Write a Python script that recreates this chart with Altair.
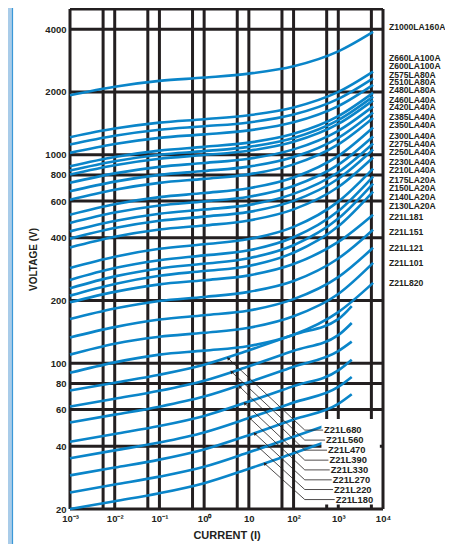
import altair as alt
import pandas as pd

# ---------------- data ----------------
I_LONG = [0.001, 0.01, 0.1, 1, 10, 100, 1000, 6000]
I_SHORT = [0.001, 0.01, 0.1, 1, 10, 100, 1000, 2000]

names = [
    "Z1000LA160A", "Z660LA100A", "Z600LA100A", "Z575LA80A", "Z510LA80A", "Z480LA80A",
    "Z460LA40A", "Z420LA40A", "Z385LA40A", "Z350LA40A", "Z300LA40A", "Z275LA40A",
    "Z250LA40A", "Z230LA40A", "Z210LA40A", "Z175LA20A", "Z150LA20A", "Z140LA20A",
    "Z130LA20A", "Z21L181", "Z21L151", "Z21L121", "Z21L101", "Z21L820",
    "Z21L680", "Z21L560", "Z21L470", "Z21L390", "Z21L330", "Z21L270", "Z21L220", "Z21L180",
]

volts = [
    [1930, 2120, 2260, 2345, 2450, 2655, 3130, 3880],
    [1214, 1335, 1426, 1481, 1548, 1686, 2002, 2506],
    [1120, 1233, 1317, 1369, 1429, 1559, 1854, 2326],
    [1021, 1126, 1205, 1252, 1309, 1431, 1711, 2164],
    [881, 976, 1047, 1091, 1143, 1260, 1532, 1980],
    [840, 931, 1000, 1041, 1091, 1204, 1466, 1899],
    [804, 891, 957, 997, 1045, 1153, 1405, 1823],
    [733, 814, 875, 913, 957, 1061, 1303, 1706],
    [668, 743, 801, 836, 877, 975, 1206, 1596],
    [609, 680, 733, 766, 805, 899, 1122, 1502],
    [516, 579, 626, 655, 691, 778, 987, 1352],
    [471, 528, 571, 597, 629, 708, 896, 1224],
    [429, 481, 521, 546, 575, 649, 824, 1132],
    [396, 445, 482, 505, 532, 601, 767, 1060],
    [359, 404, 438, 458, 484, 547, 700, 970],
    [286, 324, 354, 372, 394, 451, 596, 858],
    [251, 286, 312, 329, 348, 402, 537, 786],
    [229, 261, 285, 300, 319, 368, 494, 727],
    [211, 240, 263, 277, 293, 339, 454, 666],
    [196, 220, 239, 250, 264, 299, 382, 516],
    [163, 183, 199, 208, 220, 248, 318, 437],
    [133, 149, 162, 170, 179, 203, 259, 358],
    [110, 124, 134, 140, 148, 168, 215, 303],
    [90, 101, 110, 115, 121, 137, 176, 243],
    [74, 80.7, 88.1, 98.4, 115.4, 136.9, 162.8, 188],
    [62, 67.6, 73.8, 82.5, 96.7, 114.7, 136.4, 156],
    [52, 56.7, 61.9, 69.2, 81.1, 96.2, 114.4, 127],
    [42, 45.8, 50, 55.9, 65.5, 77.7, 92.4, 104],
    [35, 38.2, 41.7, 46.6, 54.6, 64.8, 77, 86],
    [29, 31.6, 34.5, 38.6, 45.2, 53.7, 63.8, 71],
    [24, 26.2, 28.6, 31.9, 37.4, 44.4, 52.8],
    [20, 21.8, 23.8, 26.6, 31.2, 37, 44],
]
long_range = [True] * 24 + [False] * 8

# right-hand label positions (volts)
right_label_v = [4089, 2901, 2656, 2403, 2224, 2036, 1823, 1687, 1510, 1382, 1224, 1132,
                 1036, 928, 849, 760, 696, 630, 570, 505, 427, 358, 303, 243]
# lower callout box: label anchor, leader knee and arrow tip (current A, volts)
box_label_v = [47.8, 42.8, 38.3, 34.3, 30.8, 27.6, 24.8, 22.2]
box_label_i = [456, 506, 560, 602, 644, 713, 763, 832]
knee_i = 178
arrow_tip_i = [3.44, 4.1, 6.28, 8.12, 10.5, 13.6, 16.1, 22.7]
arrow_tip_v = [105.6, 91.0, 77.1, 64.2, 54.5, 46.0, 39.7, 33.0]
box_extent_i = [420, 8500]
box_extent_v = [21, 54]

x_grid = [0.001, 0.0055, 0.01, 0.055, 0.1, 0.55, 1, 5.5, 10, 55, 100, 550, 1000, 5500, 10000]
y_grid = [20, 40, 60, 80, 100, 200, 400, 600, 800, 1000, 2000, 4000, 5000]
x_ticks = [0.001, 0.01, 0.1, 1, 10, 100, 1000, 10000]
x_tick_text = ["10⁻³", "10⁻²", "10⁻¹", "10⁰", "10", "10²", "10³", "10⁴"]
y_ticks = [20, 40, 60, 80, 100, 200, 400, 600, 800, 1000, 2000, 4000]

# ---------------- tables ----------------
rows = []
for n, vs, lr in zip(names, volts, long_range):
    cur = I_LONG if lr else I_SHORT
    for k, (i, v) in enumerate(zip(cur, vs)):
        rows.append({"name": n, "I": i, "V": v, "k": k})
curves = pd.DataFrame(rows)

box_names = names[24:]
lrows = []
for n, lv, li, ti, tv in zip(box_names, box_label_v, box_label_i, arrow_tip_i, arrow_tip_v):
    lrows.append({"name": n, "I": ti, "V": tv, "k": 0})
    lrows.append({"name": n, "I": knee_i, "V": lv, "k": 1})
    lrows.append({"name": n, "I": li, "V": lv, "k": 2})
leaders = pd.DataFrame(lrows)

FONT = "Liberation Sans"
BLUE = "#0a85c9"
INK = "#231f20"

xs = alt.Scale(type="log", domain=[0.001, 10000])
ys = alt.Scale(type="log", domain=[20, 5000])

label_map = "{" + ",".join(f"'{t}':'{s}'" for t, s in zip([str(v) for v in x_ticks], x_tick_text)) + "}"

W, H = 313, 500

strip = alt.Chart(pd.DataFrame({"a": [0]})).mark_rect(color="#a9cce9").encode(
    x=alt.value(-62), x2=alt.value(-58), y=alt.value(-1), y2=alt.value(H + 35)
)
strip_line = alt.Chart(pd.DataFrame({"a": [0]})).mark_rule(color="#3a98d8", strokeWidth=1.2).encode(
    x=alt.value(-57.5), y=alt.value(-1), y2=alt.value(H + 35)
)

x_axis = alt.Axis(
    values=x_ticks, labelExpr=f"{label_map}[''+datum.value]", grid=False, ticks=False,
    domain=False, labelFont=FONT, labelFontWeight="bold", labelFontSize=9.5, labelColor=INK,
    labelPadding=4, title="CURRENT (I)", titleFont=FONT, titleFontWeight="bold",
    titleFontSize=11, titleColor=INK, titlePadding=7, labelFlush=False, labelOverlap=False)
y_axis = alt.Axis(
    values=y_ticks, format="d", grid=False, ticks=False, domain=False, labelFont=FONT,
    labelFontWeight="bold", labelFontSize=9.5, labelColor=INK, labelPadding=4,
    title="VOLTAGE (V)", titleFont=FONT, titleFontWeight="bold", titleFontSize=10,
    titleColor=INK, titlePadding=6, labelFlush=False, labelOverlap=False)

vgrid = alt.Chart(pd.DataFrame({"I": x_grid})).mark_rule(color=INK, strokeWidth=3).encode(
    x=alt.X("I:Q", scale=xs, axis=x_axis)
)
hgrid = alt.Chart(pd.DataFrame({"V": y_grid})).mark_rule(color=INK, strokeWidth=3).encode(
    y=alt.Y("V:Q", scale=ys, axis=y_axis)
)

lines = alt.Chart(curves).mark_line(color=BLUE, strokeWidth=2.6, interpolate="monotone").encode(
    x=alt.X("I:Q", scale=xs),
    y=alt.Y("V:Q", scale=ys),
    detail="name:N",
    order="k:Q",
)

box_bg = alt.Chart(pd.DataFrame({"I": [box_extent_i[0]], "I2": [box_extent_i[1]],
                                 "V": [box_extent_v[0]], "V2": [box_extent_v[1]]})).mark_rect(
    color="white"
).encode(x=alt.X("I:Q", scale=xs), x2="I2:Q", y=alt.Y("V:Q", scale=ys), y2="V2:Q")

rl = pd.DataFrame({"name": names[:24], "V": right_label_v})
right_labels = alt.Chart(rl).mark_text(
    align="left", baseline="middle", font=FONT, fontWeight="bold", fontSize=8.6, color=INK
).encode(x=alt.value(W + 6), y=alt.Y("V:Q", scale=ys), text="name:N")

leader = alt.Chart(leaders).mark_line(color=INK, strokeWidth=0.8).encode(
    x=alt.X("I:Q", scale=xs), y=alt.Y("V:Q", scale=ys), detail="name:N", order="k:Q"
)
tips = pd.DataFrame({"I": arrow_tip_i, "V": arrow_tip_v})
arrow_heads = alt.Chart(tips).mark_point(
    shape="triangle-up", filled=True, color=INK, size=14, angle=317, opacity=1
).encode(x=alt.X("I:Q", scale=xs), y=alt.Y("V:Q", scale=ys))

bl = pd.DataFrame({"name": box_names, "V": box_label_v, "I": box_label_i})
box_text = alt.Chart(bl).mark_text(
    align="left", baseline="middle", font=FONT, fontWeight="bold", fontSize=9.4, color=INK, dx=1
).encode(x=alt.X("I:Q", scale=xs), y=alt.Y("V:Q", scale=ys), text="name:N")

chart = alt.layer(
    strip, strip_line, vgrid, hgrid, lines, box_bg, leader, arrow_heads, box_text, right_labels
).properties(
    width=W, height=H, padding={"left": 62, "top": 1, "right": 62, "bottom": 35},
    autosize=alt.AutoSizeParams(type="none"), background="white"
).configure_view(stroke=None)

chart.save("out.html", embed_options={"renderer": "svg", "actions": False})
